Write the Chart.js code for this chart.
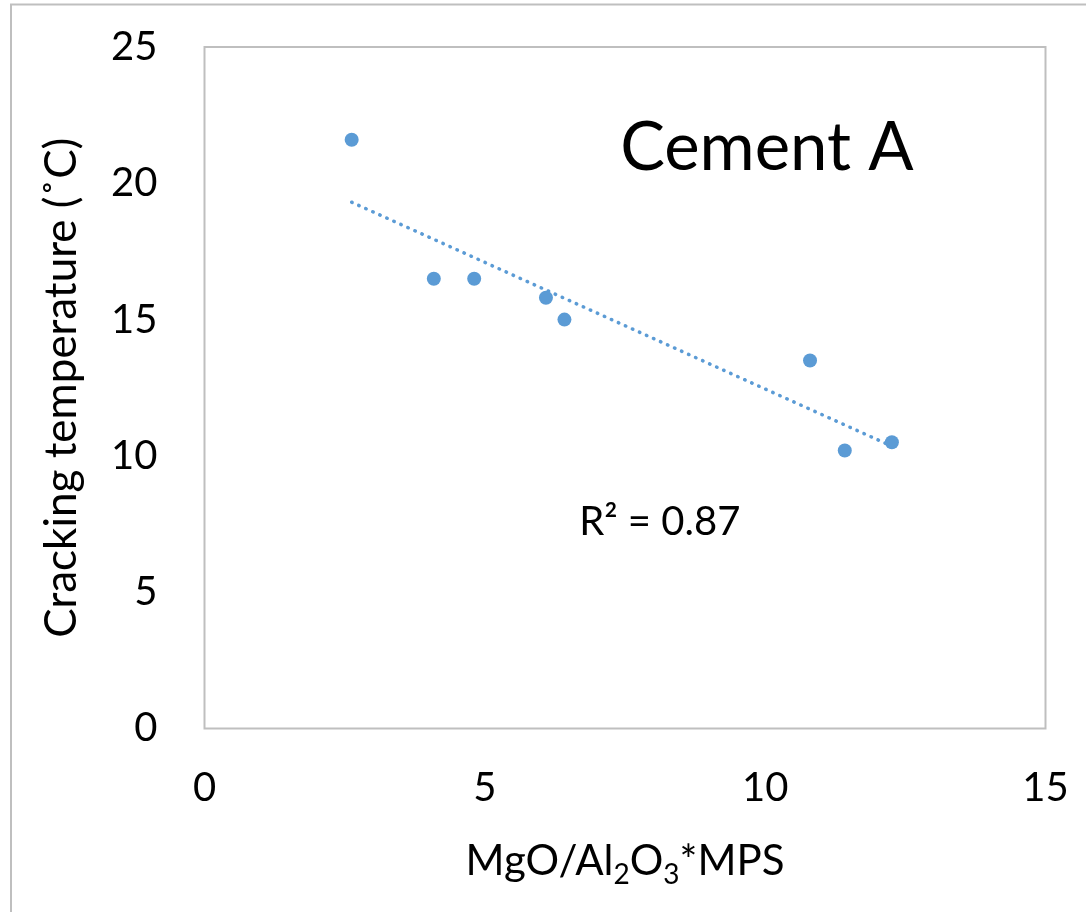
<!DOCTYPE html>
<html lang="en">
<head>
    <meta charset="UTF-8">
    <title>Cement A - Cracking temperature</title>
    <script src="https://cdn.jsdelivr.net/npm/chart.js"></script>
    <style>
        * { margin: 0; padding: 0; box-sizing: border-box; }
        body { background: #ffffff; width: 1086px; height: 912px; overflow: hidden; }
        #wrap { position: relative; width: 1086px; height: 912px; }
    </style>
</head>
<body>
    <div id="wrap"><canvas id="chart" width="1086" height="912"></canvas></div>

    <script>
        // Measured samples: MgO/Al2O3*MPS vs cracking temperature
        const mpsValues  = [2.625, 4.09, 4.81, 6.09, 6.42, 10.80, 11.42, 12.26];
        const crackTemps = [21.6, 16.5, 16.5, 15.8, 15.0, 13.5, 10.2, 10.5];

        const xTicks = [0, 5, 10, 15];
        const yTicks = [0, 5, 10, 15, 20, 25];

        const chartTitle = 'Cement A';
        const r2Label = 'R² = 0.87';
        const yTitle = 'Cracking temperature (˚C)';

        const blue = '#5B9BD5';
        const frameGrey = '#BFBFBF';
        const fontFamily = "Lato, 'Open Sans', sans-serif";

        // least squares line through the samples
        function linearFit(xs, ys) {
            const n = xs.length;
            const mx = xs.reduce((a, b) => a + b, 0) / n;
            const my = ys.reduce((a, b) => a + b, 0) / n;
            let sxy = 0, sxx = 0;
            for (let i = 0; i < n; i++) {
                sxy += (xs[i] - mx) * (ys[i] - my);
                sxx += (xs[i] - mx) * (xs[i] - mx);
            }
            const slope = sxy / sxx;
            return { slope: slope, intercept: my - slope * mx };
        }

        const fit = linearFit(mpsValues, crackTemps);
        const xMin = Math.min(...mpsValues);
        const xMax = Math.max(...mpsValues);
        const trendPoints = [xMin, xMax].map(x => ({ x: x, y: fit.intercept + fit.slope * x }));
        const samplePoints = mpsValues.map((x, i) => ({ x: x, y: crackTemps[i] }));

        // frame, outer border and the texts that Chart.js cannot lay out itself
        const decorations = {
            id: 'decorations',
            beforeDraw(chart) {
                const ctx = chart.ctx;
                ctx.save();
                ctx.fillStyle = '#ffffff';
                ctx.fillRect(0, 0, chart.width, chart.height);
                ctx.strokeStyle = frameGrey;
                ctx.lineWidth = 2;
                ctx.beginPath();
                ctx.moveTo(11, chart.height);
                ctx.lineTo(11, 4.5);
                ctx.lineTo(chart.width, 4.5);
                ctx.stroke();
                const a = chart.chartArea;
                ctx.strokeRect(a.left, a.top, a.right - a.left, a.bottom - a.top);
                ctx.restore();
            },
            afterDraw(chart) {
                const ctx = chart.ctx;
                const xs = chart.scales.x, ys = chart.scales.y;
                const a = chart.chartArea;
                ctx.save();
                ctx.fillStyle = '#000000';
                ctx.textBaseline = 'alphabetic';

                ctx.textAlign = 'center';
                ctx.font = '67px ' + fontFamily;
                ctx.fillText(chartTitle, xs.getPixelForValue(10.03), ys.getPixelForValue(20.49));

                ctx.font = '40px ' + fontFamily;
                ctx.fillText(r2Label, xs.getPixelForValue(8.12), ys.getPixelForValue(7.1));

                // x title with subscripts: MgO/Al2O3*MPS
                const parts = [
                    { t: 'MgO/Al', sub: false },
                    { t: '2', sub: true },
                    { t: 'O', sub: false },
                    { t: '3', sub: true },
                    { t: '*MPS', sub: false }
                ];
                const mainFont = '42px ' + fontFamily;
                const subFont = '28px ' + fontFamily;
                let total = 0;
                parts.forEach(p => {
                    ctx.font = p.sub ? subFont : mainFont;
                    p.w = ctx.measureText(p.t).width;
                    total += p.w;
                });
                let x = (a.left + a.right) / 2 - total / 2;
                const base = 875;
                ctx.textAlign = 'left';
                parts.forEach(p => {
                    ctx.font = p.sub ? subFont : mainFont;
                    ctx.fillText(p.t, x, p.sub ? base + 9 : base);
                    x += p.w;
                });

                // rotated y title
                ctx.translate(76, (a.top + a.bottom) / 2);
                ctx.rotate(-Math.PI / 2);
                ctx.textAlign = 'center';
                ctx.font = '44px ' + fontFamily;
                ctx.fillText(yTitle, 0, 0);
                ctx.restore();
            }
        };

        new Chart(document.getElementById('chart').getContext('2d'), {
            type: 'scatter',
            data: {
                datasets: [{
                    label: 'Samples',
                    data: samplePoints,
                    backgroundColor: blue,
                    borderColor: blue,
                    pointRadius: 7,
                    pointBorderWidth: 0,
                    order: 1
                }, {
                    label: 'Linear trend',
                    type: 'line',
                    data: trendPoints,
                    borderColor: blue,
                    borderWidth: 3.5,
                    borderDash: [0.5, 7.2],
                    borderCapStyle: 'round',
                    pointRadius: 0,
                    fill: false,
                    order: 2
                }]
            },
            options: {
                responsive: false,
                animation: false,
                events: [],
                layout: { padding: { top: 47, right: 40.5, left: 0, bottom: 0 } },
                plugins: {
                    legend: { display: false },
                    tooltip: { enabled: false }
                },
                scales: {
                    x: {
                        type: 'linear',
                        min: 0,
                        max: 15,
                        afterBuildTicks(scale) { scale.ticks = xTicks.map(v => ({ value: v })); },
                        afterFit(scale) {
                            scale.height = 183.5;
                            scale.paddingLeft = 0;
                            scale.paddingRight = 0;
                        },
                        grid: { display: false, drawTicks: false },
                        border: { display: false },
                        ticks: {
                            color: '#000000',
                            padding: 36,
                            maxRotation: 0,
                            font: { family: fontFamily, size: 40 }
                        }
                    },
                    y: {
                        type: 'linear',
                        min: 0,
                        max: 25,
                        afterBuildTicks(scale) { scale.ticks = yTicks.map(v => ({ value: v })); },
                        afterFit(scale) {
                            scale.width = 204.5;
                            scale.paddingTop = 0;
                            scale.paddingBottom = 0;
                        },
                        grid: { display: false, drawTicks: false },
                        border: { display: false },
                        ticks: {
                            color: '#000000',
                            padding: 47,
                            font: { family: fontFamily, size: 40 }
                        }
                    }
                }
            },
            plugins: [decorations]
        });
    </script>
</body>
</html>
